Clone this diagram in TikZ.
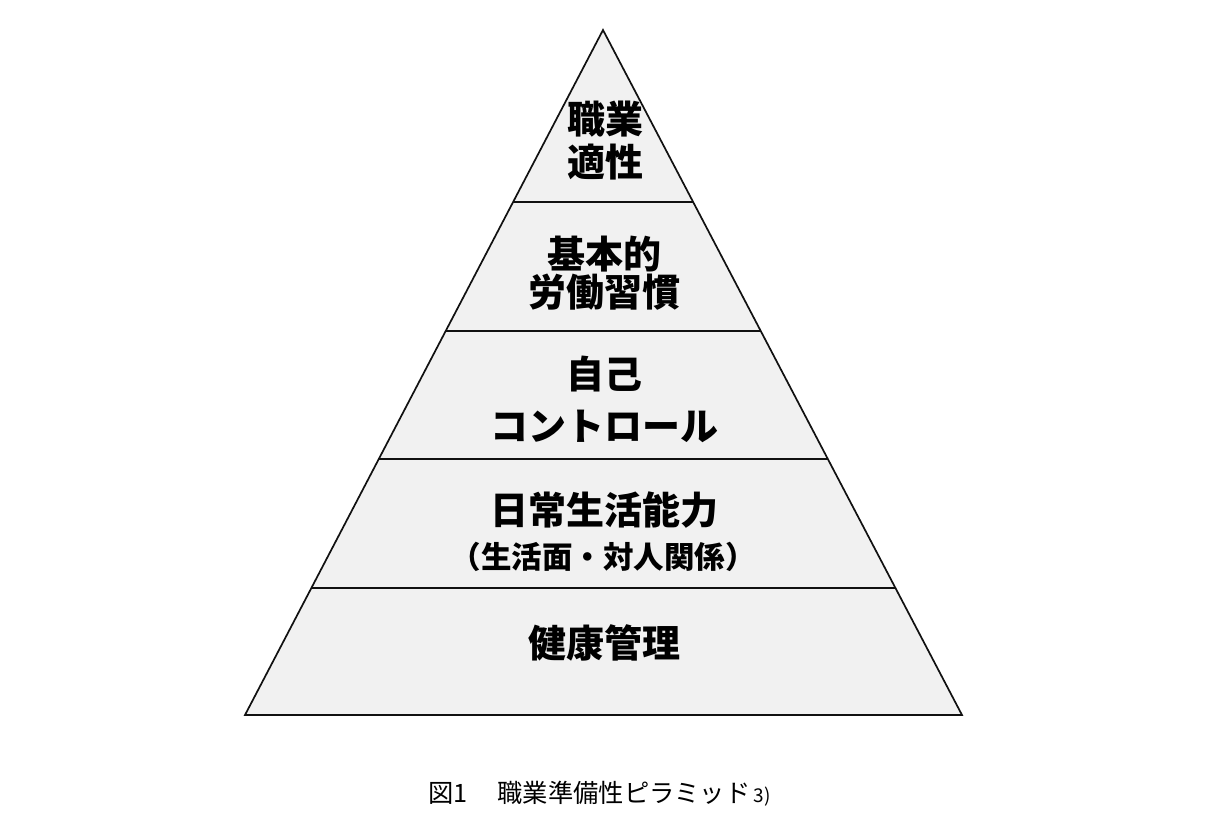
\documentclass[tikz,border=0pt]{standalone}
\usepackage{fontspec}
\newfontfamily\jp{Noto Sans CJK JP}
\usetikzlibrary{calc}
\definecolor{layerfill}{HTML}{F1F1F1}
\definecolor{edge}{HTML}{111111}
\tikzset{
  lbl/.style={font=\jp\bfseries\fontsize{38}{38}\selectfont, inner sep=0pt, anchor=center},
  lblsmall/.style={font=\jp\bfseries\fontsize{30.5}{30.5}\selectfont, inner sep=0pt, anchor=center},
  captext/.style={font=\jp\fontsize{25.3}{25.3}\selectfont, inner sep=0pt, anchor=base west},
  outline/.style={draw=edge, line width=1.7pt, line join=miter},
  divider/.style={draw=edge, line width=1.5pt}
}
\begin{document}
\begin{tikzpicture}[x=1pt,y=-1pt]
\useasboundingbox (0,0) rectangle (1216,831);
\coordinate (apex) at (603,30);
\coordinate (bl) at (245,715);
\coordinate (br) at (962,715);
\fill[layerfill] (apex) -- (bl) -- (br) -- cycle;
\foreach \n/\t in {a/0.2511, b/0.4394, c/0.6263, d/0.8146}{
  \coordinate (L\n) at ($(apex)!\t!(bl)$);
  \coordinate (R\n) at ($(apex)!\t!(br)$);
}
\draw[divider] (La) -- (Ra);
\draw[divider] (Lb) -- (Rb);
\draw[divider] (Lc) -- (Rc);
\draw[divider] (Ld) -- (Rd);
\draw[outline] (apex) -- (bl) -- (br) -- cycle;

\node[lbl] (t1a) at (605,119) {職業};
\node[lbl] (t1b) at (605,162) {適性};
\node[lbl] (t2a) at (604,254) {基本的};
\node[lbl] (t2b) at (604,292) {労働習慣};
\node[lbl] (t3a) at (604,374) {自己};
\node[lbl] (t3b) at (604,426) {コントロール};
\node[lbl] (t4a) at (604,510) {日常生活能力};
\node[lblsmall] (t4b) at (603,557) {（生活面・対人関係）};
\node[lbl] (t5) at (604,643) {健康管理};

\node[captext] (caption) at (428,802) {図1\hspace{30pt}職業準備性ピラミッド\hspace{3pt}{\fontsize{19}{19}\selectfont 3)}};
\end{tikzpicture}
\end{document}
